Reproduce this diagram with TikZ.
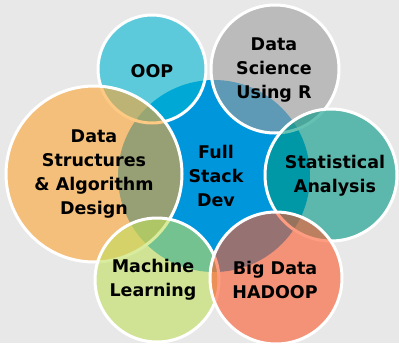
\documentclass[tikz,border=0pt]{standalone}
\usepackage{fontspec}
\setmainfont{DejaVu Sans}
\definecolor{bgc}{RGB}{232,232,232}
\definecolor{cblue}{RGB}{0,150,220}
\definecolor{coop}{RGB}{0,183,209}
\definecolor{cdsr}{RGB}{157,157,157}
\definecolor{cstat}{RGB}{0,152,132}
\definecolor{cbig}{RGB}{253,90,45}
\definecolor{cml}{RGB}{192,224,92}
\definecolor{cdsa}{RGB}{252,165,49}
\tikzset{
  bubble/.style={circle, draw=white, line width=3pt, fill opacity=0.6, draw opacity=1, inner sep=0pt},
  lbl/.style={align=center, text=black, font=\fontsize{17.5}{24}\selectfont\bfseries, inner sep=0pt}
}
\begin{document}
\begin{tikzpicture}[x=1pt,y=-1pt]
\fill[bgc] (0,0) rectangle (399,343);
\useasboundingbox (0,0) rectangle (399,343);
\node[circle, fill=cblue, minimum size=192pt, inner sep=0pt] (hub) at (214,176) {};
\node[bubble, fill=coop, minimum size=108pt] (oop) at (152,69) {};
\node[bubble, fill=cdsr, minimum size=128pt] (dsr) at (275,69) {};
\node[bubble, fill=cdsa, minimum size=176pt] (dsa) at (94,174) {};
\node[bubble, fill=cml, minimum size=124pt] (ml) at (157,280) {};
\node[bubble, fill=cstat, minimum size=132pt] (stat) at (331,175) {};
\node[bubble, fill=cbig, minimum size=132pt] (big) at (276,278) {};
\node[lbl] (toop) at (152,71) {OOP};
\node[lbl] (tdsr) at (274,70) {Data\\Science\\Using R};
\node[lbl] (thub) at (216,175.5) {Full\\Stack\\Dev};
\node[lbl] (tstat) at (335,175.5) {Statistical\\Analysis};
\node[lbl] (tbig) at (275,280) {Big Data\\HADOOP};
\node[lbl] (tml) at (153,280) {Machine\\Learning};
\node[lbl] (tdsa) at (94,174.5) {Data\\Structures\\\& Algorithm\\Design};
\end{tikzpicture}
\end{document}
